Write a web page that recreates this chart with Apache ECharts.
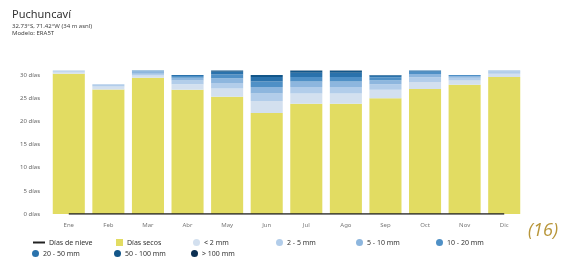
<!DOCTYPE html>
<html><head><meta charset="utf-8">
<script src="https://cdn.jsdelivr.net/npm/echarts@6/dist/echarts.min.js"></script>
<style>html,body{margin:0;padding:0;background:#fff}#c{width:567px;height:263px}</style>
</head><body><div id="c"></div>
<script>
const months = ['Ene','Feb','Mar','Abr','May','Jun','Jul','Ago','Sep','Oct','Nov','Dic'];
const yTicks = [0,5,10,15,20,25,30];
const snowDays  = [0,0,0,0,0,0,0,0,0,0,0,0];
const dryDays   = [30.3,26.9,29.4,26.8,25.3,21.8,23.8,23.8,25.0,27.0,27.9,29.6];
const rainLt2   = [0.4,0.6,0.5,1.2,1.8,2.6,2.2,2.2,1.8,1.5,0.9,0.7];
const rain2to5  = [0.3,0.5,0.4,0.8,1.2,1.6,1.4,1.4,1.2,1.0,0.6,0.5];
const rain5to10 = [0,0,0.5,0.6,1.0,1.4,1.2,1.2,0.9,0.7,0.4,0.2];
const rain10to20= [0,0,0.2,0.4,0.8,1.2,1.0,1.0,0.6,0.5,0.2,0];
const rain20to50= [0,0,0,0.2,0.6,1.0,0.9,0.9,0.4,0.3,0,0];
const rain50to100=[0,0,0,0,0.3,0.4,0.4,0.4,0.1,0,0,0];
const rainGt100 = [0,0,0,0,0,0,0.1,0.1,0,0,0,0];

const FONT = 'Noto Sans';
const chart = echarts.init(document.getElementById('c'), null, {renderer:'canvas'});

const barSeries = [
  ['Días secos', dryDays, '#e2dc62'],
  ['< 2 mm', rainLt2, '#d3e0ef'],
  ['2 - 5 mm', rain2to5, '#b2cdea'],
  ['5 - 10 mm', rain5to10, '#8db6de'],
  ['10 - 20 mm', rain10to20, '#4f90c6'],
  ['20 - 50 mm', rain20to50, '#2a72ac'],
  ['50 - 100 mm', rain50to100, '#125689'],
  ['> 100 mm', rainGt100, '#0b2f52']
].map(([name, data, color]) => ({
  name, type:'bar', stack:'d', data, barCategoryGap:'19%',
  itemStyle:{color}, emphasis:{disabled:true}
}));

const legendPos = [
  ['Días de nieve', 33, 239, 'line'],
  ['Días secos', 116, 239, 'rect'],
  ['< 2 mm', 193, 239, 'circle'],
  ['2 - 5 mm', 276, 239, 'circle'],
  ['5 - 10 mm', 356, 239, 'circle'],
  ['10 - 20 mm', 436, 239, 'circle'],
  ['20 - 50 mm', 32, 250, 'circle'],
  ['50 - 100 mm', 114, 250, 'circle'],
  ['> 100 mm', 191, 250, 'circle']
];
const legends = legendPos.map(([name, x, y, icon]) => ({
  data:[name], left:x, top:y, padding:0, itemGap:0,
  itemWidth: icon==='line' ? 12 : 7, itemHeight: icon==='line' ? 2 : 7,
  icon: icon==='line' ? 'rect' : icon,
  selectedMode:false,
  textStyle:{fontFamily:FONT, fontSize:7, color:'#333', padding:[0,0,0,-1]}
}));

chart.setOption({
  animation:false,
  backgroundColor:'#fff',
  textStyle:{fontFamily:FONT},
  legend: legends,
  grid:{left:49, right:43, top:70.4, bottom:49, containLabel:false},
  xAxis:{type:'category', data:months,
    axisLine:{show:false}, axisTick:{show:false},
    axisLabel:{fontFamily:FONT, fontSize:6, color:'#777', margin:8}},
  yAxis:{type:'value', min:0, max:31, interval:5,
    splitLine:{show:false}, axisLine:{show:false}, axisTick:{show:false},
    axisLabel:{fontFamily:FONT, fontSize:6, color:'#666', margin:9,
      formatter:v => yTicks.includes(v) ? v + ' días' : ''}},
  graphic:[
    {type:'text', left:12, top:9, style:{text:'Puchuncaví', font:'11px "Noto Sans"', fill:'#333'}},
    {type:'text', left:12, top:23, style:{text:'32.73°S, 71.42°W (34 m asnl)', font:'6px "Noto Sans"', fill:'#444'}},
    {type:'text', left:12, top:30, style:{text:'Modelo: ERA5T', font:'6px "Noto Sans"', fill:'#444'}},
    {type:'text', left:528, top:222, style:{text:'(16)', font:'italic 18px "Open Sans"', fill:'#b8963a'}}
  ],
  series:[
    {name:'Días de nieve', type:'line', data:snowDays, symbol:'none', z:5,
     lineStyle:{color:'#222', width:1.5}, itemStyle:{color:'#222'}, emphasis:{disabled:true}},
    ...barSeries
  ]
});
</script></body></html>
